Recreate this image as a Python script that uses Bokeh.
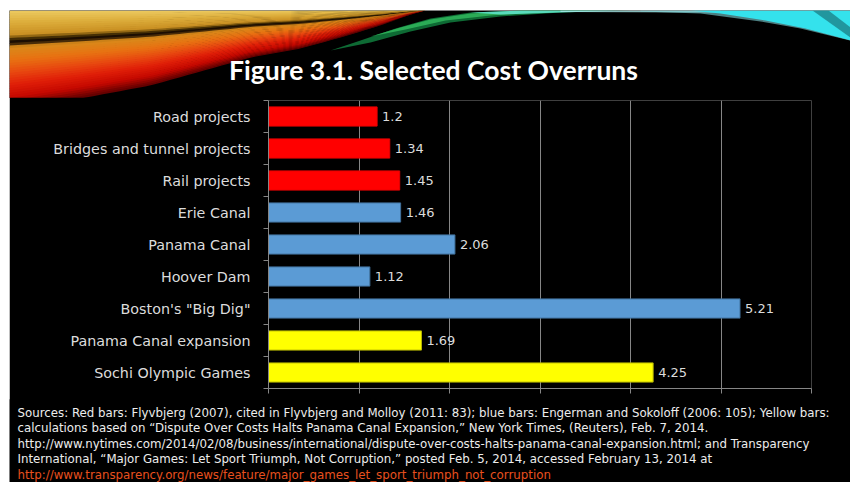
import numpy as np
from bokeh.plotting import figure
from bokeh.layouts import column
from bokeh.models import Range1d, FixedTicker, ColumnDataSource, CustomJSTickFormatter
from bokeh.embed import file_html
from bokeh.resources import INLINE
from bokeh.core.properties import value

# ---------------- data ----------------
categories = ["Road projects", "Bridges and tunnel projects", "Rail projects",
              "Erie Canal", "Panama Canal", "Hoover Dam", "Boston's \"Big Dig\"",
              "Panama Canal expansion", "Sochi Olympic Games"]
overruns = [1.2, 1.34, 1.45, 1.46, 2.06, 1.12, 5.21, 1.69, 4.25]
groups = ["red", "red", "red", "blue", "blue", "blue", "blue", "yellow", "yellow"]
x_ticks = [0, 1, 2, 3, 4, 5, 6]
title_text = "Figure 3.1. Selected Cost Overruns"
source_lines = [
    "Sources: Red bars: Flyvbjerg (2007), cited in Flyvbjerg and Molloy (2011: 83); blue bars: Engerman  and Sokoloff (2006: 105); Yellow bars:",
    "calculations based on \u201cDispute Over Costs Halts Panama  Canal  Expansion,\u201d New York Times, (Reuters), Feb. 7, 2014.",
    "http://www.nytimes.com/2014/02/08/business/international/dispute-over-costs-halts-panama-canal-expansion.html;  and Transparency",
    "International, \u201cMajor Games: Let Sport Triumph,  Not Corruption,\u201d posted Feb. 5, 2014, accessed February 13, 2014 at",
    "http://www.transparency.org/news/feature/major_games_let_sport_triumph_not_corruption",
]

fill_map = {"red": "#FF0000", "blue": "#5B9BD5", "yellow": "#FFFF00"}
line_map = {"red": "#E80000", "blue": "#41719C", "yellow": "#B8B800"}

GRAY = "#868686"
LABEL = "#DCDCDC"
X0, Y0 = 9, 10          # slide origin (white page margin left/top)
W = 850 - X0


def blank_fig(height, y_top, y_bot, margin=(0, 0, 0, 0)):
    f = figure(width=W, height=height, output_backend="svg", toolbar_location=None,
               x_range=Range1d(X0, 850), y_range=Range1d(y_bot, y_top),
               min_border=0, min_border_left=0, min_border_right=0,
               min_border_top=0, min_border_bottom=0,
               x_axis_location=None, y_axis_location=None, frame_align=False,
               margin=margin)
    f.background_fill_color = "black"
    f.border_fill_color = "black"
    f.outline_line_color = None
    f.grid.visible = False
    return f


# ---------------- header (decoration + title) ----------------
top = blank_fig(88, 10, 98)


def hex2rgb(h):
    h = h.lstrip("#")
    return [int(h[i:i + 2], 16) for i in (0, 2, 4)]


def cinterp(stops, f):
    for (f0, c0), (f1, c1) in zip(stops[:-1], stops[1:]):
        if f0 <= f <= f1:
            t = (f - f0) / (f1 - f0) if f1 > f0 else 0
            a, b = hex2rgb(c0), hex2rgb(c1)
            return "#%02x%02x%02x" % tuple(int(round(a[k] + t * (b[k] - a[k]))) for k in range(3))
    return stops[-1][1]


deco_x, deco_y, deco_c, deco_a = [], [], [], []


def poly(pts, color, alpha=1.0):
    deco_x.append([float(x) for x, y in pts])
    deco_y.append([float(y) for x, y in pts])
    deco_c.append(color)
    deco_a.append(alpha)


stops = [(0.0, "#EDCB62"), (0.12, "#DDAE3C"), (0.25, "#C98F22"), (0.28, "#6A4A08"),
         (0.31, "#120800"), (0.34, "#3A2206"), (0.37, "#D88A1A"), (0.5, "#E87212"),
         (0.62, "#E84A10"), (0.75, "#E01E08"), (0.88, "#C40800"), (1.0, "#5A0000")]
LX = [9, 80, 150, 250, 300, 340, 380, 410, 425]
LY = [110, 98, 85, 57, 48, 37, 25, 14, 10]
xs_s = np.linspace(9, 425, 50)
L = np.interp(xs_s, LX, LY)
n = 40
for k in range(n):
    f1 = k / n
    f2 = min(1.0, (k + 1) / n + 0.01)
    up = 10 + f1 * (L - 10)
    lo = 10 + f2 * (L - 10)
    poly(list(zip(xs_s, up)) + list(zip(xs_s[::-1], lo[::-1])), cinterp(stops, (f1 + f2) / 2))

poly([(330, 50), (360, 40), (395, 28), (430, 18), (470, 12), (520, 10), (630, 10),
      (560, 12), (500, 16), (450, 22), (410, 31), (370, 42)], "#0E6A34", 1.0)
poly([(370, 36), (400, 27), (430, 19), (470, 13), (520, 10), (600, 10), (540, 12),
      (490, 15), (445, 20), (405, 29)], "#2FB25A", 0.9)
poly([(470, 12), (520, 10), (620, 10), (560, 12), (500, 14)], "#5EE0C8", 0.9)
poly([(560, 10), (720, 10), (720, 12), (560, 11.5)], "#A8E8E8", 0.8)
poly([(640, 10), (850, 10), (850, 40), (800, 28), (760, 21), (700, 13), (640, 11)], "#7FD4D8", 0.6)
poly([(690, 10), (850, 10), (850, 40), (805, 28), (765, 20), (720, 13)], "#34E2EC", 1.0)
poly([(812, 10), (828, 10), (850, 27), (850, 37)], "#1F8E96", 0.9)

top.patches(xs="xs", ys="ys", fill_color="c", fill_alpha="a", line_color=None,
            source=ColumnDataSource(dict(xs=deco_x, ys=deco_y, c=deco_c, a=deco_a)))
top.text(x=[433], y=[69], text=[title_text], text_align="center", text_baseline="middle",
         text_font=value("Lato"), text_font_style="bold",
         text_font_size="26.5px", text_color="white")

# ---------------- chart ----------------
idx = list(range(len(categories)))
src = ColumnDataSource(dict(
    pos=idx,
    value=overruns,
    label=[f"{v:g}" for v in overruns],
    fill=[fill_map[g] for g in groups],
    line=[line_map[g] for g in groups],
))

p = figure(width=W, height=303, output_backend="svg", toolbar_location=None,
           x_range=Range1d(0, 6), y_range=Range1d(len(categories) - 0.5, -0.5),
           min_border_left=268 - X0, min_border_right=39, min_border_top=3,
           min_border_bottom=12, frame_align=False, margin=(-1, 0, 0, 0))
p.background_fill_color = "black"
p.border_fill_color = "black"
p.outline_line_color = None

p.hbar(y="pos", right="value", left=0, height=0.6, source=src,
       fill_color="fill", line_color="line", line_width=1)
p.text(x="value", y="pos", text="label", source=src, x_offset=5,
       text_baseline="middle", text_align="left",
       text_font=value("DejaVu Sans"), text_font_size="13px", text_color=LABEL)

yax = p.yaxis[0]
yax.ticker = FixedTicker(ticks=idx, minor_ticks=[i - 0.5 for i in range(len(categories) + 1)])
yax.major_label_overrides = {i: c for i, c in zip(idx, categories)}
yax.major_tick_out = 0
yax.major_tick_in = 0
yax.minor_tick_out = 5
yax.minor_tick_in = 0
yax.minor_tick_line_color = GRAY
yax.axis_line_color = GRAY
yax.major_label_standoff = 13
yax.major_label_text_font = "DejaVu Sans"
yax.major_label_text_font_size = "14.3px"
yax.major_label_text_color = LABEL

xax = p.xaxis[0]
xax.ticker = FixedTicker(ticks=x_ticks)
xax.formatter = CustomJSTickFormatter(code="return ''")
xax.major_label_text_font_size = "0px"
xax.major_label_standoff = 0
xax.major_tick_out = 5
xax.major_tick_in = 0
xax.minor_tick_out = 0
xax.minor_tick_in = 0
xax.major_tick_line_color = GRAY
xax.axis_line_color = GRAY

p.ygrid.visible = False
p.xgrid.ticker = FixedTicker(ticks=x_ticks[1:])
p.xgrid.grid_line_color = GRAY

# ---------------- sources ----------------
bot = blank_fig(83, 400, 483, margin=(-1, 0, 0, 0))
line_y = [413, 428, 444, 459, 475]
bot.text(x=[17] * len(source_lines), y=line_y, text=source_lines,
         text_align="left", text_baseline="middle",
         text_font=value("DejaVu Sans"), text_font_size="11.8px",
         text_color=["#EDEDED"] * (len(source_lines) - 1) + ["#E8501E"])

layout = column(top, p, bot, spacing=0, margin=(Y0, 0, 0, X0))
open("out.html", "w").write(file_html(layout, INLINE))
